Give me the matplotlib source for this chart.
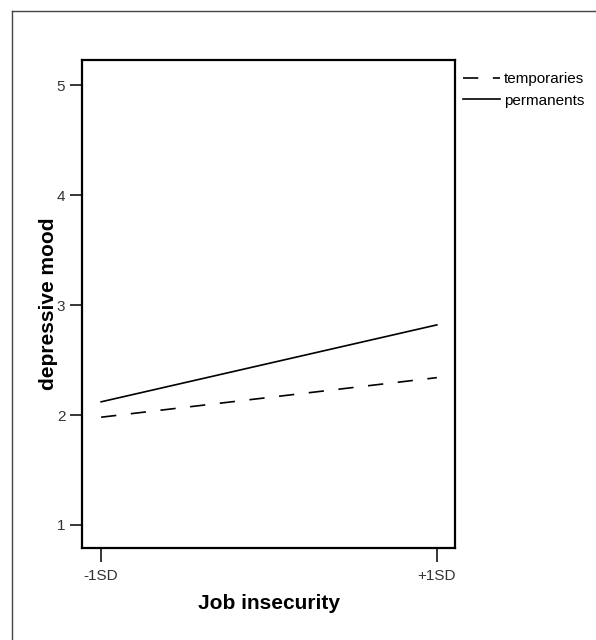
import matplotlib
matplotlib.use("Agg")
import matplotlib.pyplot as plt
from matplotlib.lines import Line2D

# simple slopes: depressive mood at low / high job insecurity
x_labels = ["-1SD", "+1SD"]
temporaries = [1.98, 2.34]
permanents = [2.12, 2.82]
y_ticks = [1, 2, 3, 4, 5]

plt.rcParams['font.family'] = ['Liberation Sans', 'DejaVu Sans']

fig = plt.figure(figsize=(5.96, 6.4), dpi=100)
ax = fig.add_axes([82 / 596, 1 - 548 / 640, (455 - 82) / 596, (548 - 60) / 640])

xs = range(len(x_labels))
lw = 1.2
ax.plot(xs, temporaries, color='black', lw=lw, dashes=(11 / lw, 10.5 / lw),
        label='temporaries')
ax.plot(xs, permanents, color='black', lw=lw, label='permanents')

ax.set_xlim(-0.057, 1.054)
ax.set_ylim(0.79, 5.23)
ax.set_xticks(list(xs))
ax.set_xticklabels(x_labels)
ax.set_yticks(y_ticks)

for s in ax.spines.values():
    s.set_linewidth(1.6)
ax.tick_params(direction='out', length=8.5, width=1.1, labelsize=11,
               labelcolor='#333333', pad=3.5)
ax.tick_params(axis='x', length=10, pad=5)

ax.set_xlabel('Job insecurity', fontsize=15, fontweight='bold', labelpad=8)
ax.set_ylabel('depressive mood', fontsize=15, fontweight='bold')
ax.yaxis.set_label_coords(-0.065, 0.5)

ax.legend(loc='upper left', bbox_to_anchor=(463 / 596, 1 - 72 / 640),
          bbox_transform=fig.transFigure, frameon=False, fontsize=11,
          handlelength=2.42, handletextpad=0.26, labelspacing=0.5,
          borderaxespad=0, borderpad=0)

# outer frame (left and top only)
fig.add_artist(Line2D([12 / 596, 12 / 596], [0, 1 - 11 / 640], color='#444444', lw=1.0))
fig.add_artist(Line2D([12 / 596, 1], [1 - 11 / 640, 1 - 11 / 640], color='#444444', lw=1.0))

fig.savefig('out.png', dpi=100)
